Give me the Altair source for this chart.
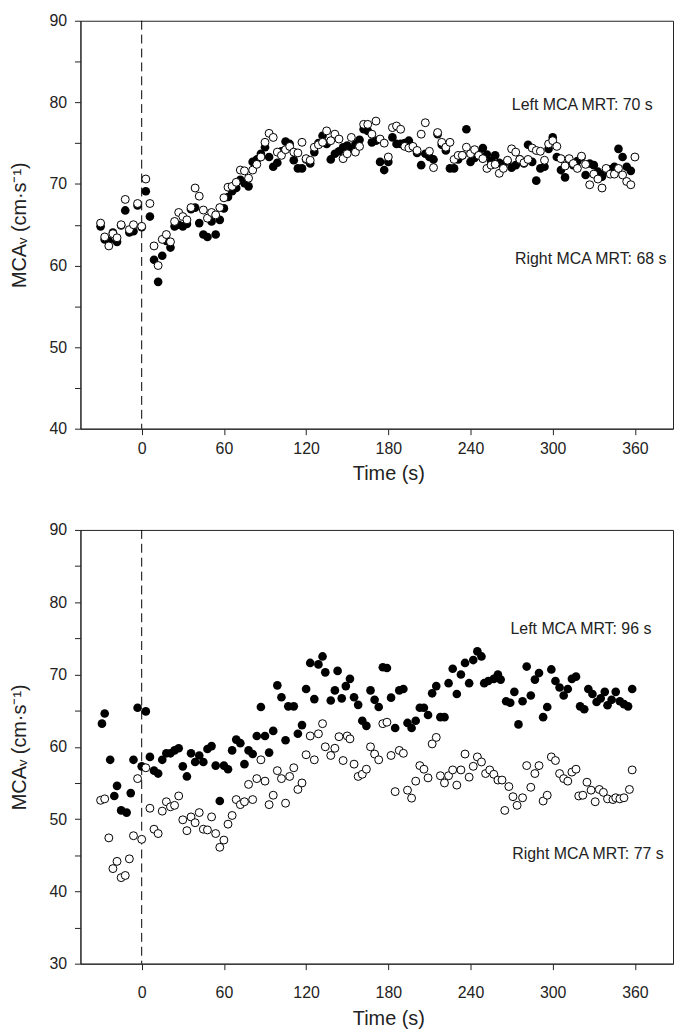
import altair as alt
import pandas as pd

FONT = "Liberation Sans"
INK = "#222222"

# ---------------- data ----------------
# Top panel, filled circles (left MCA)
top_left_t = [-30, -27, -24, -21, -18, -15, -12, -9, -6, -3, 0, 3, 6, 9, 12, 15, 18, 21, 24, 27,
              30, 33, 36, 39, 42, 45, 48, 51, 54, 57, 60, 63, 66, 69, 72, 75, 78, 81, 84, 87,
              90, 93, 96, 99, 102, 105, 108, 111, 114, 117, 120, 123, 126, 129, 132, 135, 138, 141, 144, 147,
              150, 153, 156, 159, 162, 165, 168, 171, 174, 177, 180, 183, 186, 189, 192, 195, 198, 201, 204, 207,
              210, 213, 216, 219, 222, 225, 228, 231, 234, 237, 240, 243, 246, 249, 252, 255, 258, 261, 264, 267,
              270, 273, 276, 279, 282, 285, 288, 291, 294, 297, 300, 303, 306, 309, 312, 315, 318, 321, 324, 327,
              330, 333, 336, 339, 342, 345, 348, 351, 354, 357]
top_left_v = [64.8, 63.2, 63.0, 64.05, 62.9, 64.9, 66.75, 64.05, 64.2, 67.35, 64.7, 69.1, 66.0, 60.7, 58.0, 61.2, 63.0, 62.2, 64.8, 65.0,
              64.8, 65.1, 66.9, 67.1, 65.2, 63.8, 63.5, 65.4, 63.8, 65.6, 67.0, 68.4, 69.1, 69.5, 70.5, 70.1, 69.7, 72.7, 73.0, 73.7,
              74.5, 73.3, 72.1, 72.6, 74.0, 75.2, 74.9, 72.9, 71.9, 71.9, 73.0, 72.5, 73.9, 75.0, 75.9, 74.9, 73.0, 73.7, 74.0, 74.5,
              74.7, 74.3, 74.9, 75.4, 76.7, 76.5, 75.1, 75.3, 72.7, 71.7, 72.7, 75.7, 74.9, 74.9, 75.0, 75.3, 74.5, 73.8, 72.3, 73.7,
              73.3, 73.0, 76.1, 74.8, 74.1, 71.9, 71.9, 73.0, 73.5, 76.7, 72.7, 73.2, 73.7, 74.4, 73.6, 72.8, 73.5, 72.6, 72.4, 72.8,
              72.0, 72.3, 73.0, 72.5, 74.8, 72.7, 70.4, 71.9, 72.1, 74.3, 75.7, 73.3, 71.7, 70.8, 72.6, 72.3, 72.8, 73.3, 71.1, 72.5,
              72.3, 71.5, 70.9, 71.6, 71.8, 72.1, 74.3, 73.3, 72.1, 71.6]

# Top panel, open circles (right MCA)
top_right_t = [-30, -27, -24, -21, -18, -15, -12, -9, -6, -3, 0, 3, 6, 9, 12, 15, 18, 21, 24, 27,
               30, 33, 36, 39, 42, 45, 48, 51, 54, 57, 60, 63, 66, 69, 72, 75, 78, 81, 84, 87,
               90, 93, 96, 99, 102, 105, 108, 111, 114, 117, 120, 123, 126, 129, 132, 135, 138, 141, 144, 147,
               150, 153, 156, 159, 162, 165, 168, 171, 174, 177, 180, 183, 186, 189, 192, 195, 198, 201, 204, 207,
               210, 213, 216, 219, 222, 225, 228, 231, 234, 237, 240, 243, 246, 249, 252, 255, 258, 261, 264, 267,
               270, 273, 276, 279, 282, 285, 288, 291, 294, 297, 300, 303, 306, 309, 312, 315, 318, 321, 324, 327,
               330, 333, 336, 339, 342, 345, 348, 351, 354, 357, 360]
top_right_v = [65.2, 63.5, 62.4, 63.9, 63.4, 65.0, 68.1, 64.4, 65.0, 67.6, 64.8, 70.6, 67.6, 62.4, 60.0, 63.2, 63.8, 62.9, 65.4, 66.5,
               66.0, 65.6, 67.1, 69.5, 68.5, 66.8, 65.8, 66.5, 66.2, 67.1, 68.3, 69.6, 69.7, 70.2, 71.7, 71.6, 70.7, 71.7, 72.4, 73.3,
               75.1, 76.2, 75.7, 73.9, 73.5, 74.2, 74.6, 73.9, 73.8, 75.1, 73.1, 72.9, 74.5, 74.8, 75.1, 76.5, 75.3, 76.1, 75.5, 73.1,
               73.7, 75.7, 73.9, 74.6, 77.3, 77.3, 76.1, 77.7, 75.5, 75.0, 73.3, 76.9, 77.1, 76.7, 74.6, 74.4, 74.6, 74.1, 76.1, 77.5,
               74.0, 72.0, 76.3, 75.1, 74.5, 75.1, 73.0, 73.5, 73.5, 74.5, 73.7, 74.2, 73.5, 73.1, 71.9, 72.3, 72.4, 71.3, 71.9, 72.9,
               74.3, 73.9, 73.0, 72.6, 73.0, 74.4, 74.1, 74.0, 72.9, 74.9, 75.3, 74.6, 73.1, 72.2, 73.1, 72.5, 71.9, 73.4, 72.4, 69.9,
               71.2, 70.6, 69.5, 71.9, 71.2, 71.2, 71.9, 71.1, 70.3, 69.9, 73.3]

# Bottom panel, filled circles (left MCA)
bot_left_t = [-29, -27, -23, -20, -18, -15, -11, -8, -6, -3, 0, 3, 6, 9, 12, 15, 18, 21, 24, 27,
              30, 33, 36, 39, 42, 45, 48, 51, 54, 57, 60, 63, 66, 69, 72, 75, 78, 81, 84, 87,
              90, 93, 96, 99, 102, 105, 107, 111, 114, 117, 120, 123, 126, 129, 132, 134, 138, 141, 143, 146,
              149, 152, 155, 158, 161, 164, 167, 170, 173, 176, 179, 182, 185, 188, 191, 194, 197, 200, 203, 206,
              209, 212, 215, 218, 221, 224, 227, 230, 233, 236, 239, 242, 245, 248, 250, 253, 257, 260, 262, 266,
              269, 272, 275, 278, 281, 284, 287, 290, 293, 296, 299, 302, 305, 308, 311, 314, 317, 320, 323, 326,
              329, 332, 335, 338, 340, 343, 346, 349, 352, 355, 358]
bot_left_v = [63.2, 64.6, 58.2, 53.2, 54.6, 51.2, 50.9, 53.6, 58.2, 65.4, 57.3, 64.9, 58.6, 56.7, 56.3, 58.2, 59.1, 59.1, 59.5, 59.8,
              57.3, 55.9, 59.1, 57.9, 58.8, 57.9, 59.7, 60.1, 57.4, 52.5, 57.4, 56.9, 59.5, 61.0, 60.5, 57.6, 59.5, 59.0, 61.5, 65.5,
              61.5, 59.2, 62.2, 68.5, 66.85, 60.9, 65.6, 65.6, 61.8, 63.0, 68.0, 71.6, 66.6, 71.4, 72.5, 70.3, 66.4, 67.8, 70.5, 66.7,
              68.4, 69.4, 66.85, 65.8, 63.6, 62.9, 67.8, 66.5, 65.5, 71.0, 70.9, 66.8, 62.6, 67.8, 68.0, 63.3, 62.6, 63.6, 65.4, 65.4,
              64.4, 67.4, 68.4, 64.1, 64.1, 68.8, 70.8, 67.3, 70.0, 71.6, 68.8, 72.0, 73.2, 72.5, 68.8, 69.1, 69.4, 70.0, 69.3, 66.3,
              66.1, 67.6, 63.1, 66.3, 71.1, 67.1, 69.3, 70.2, 64.1, 65.5, 70.7, 69.1, 68.2, 67.1, 68.0, 69.4, 69.7, 65.6, 65.2, 68.0,
              67.3, 66.2, 66.7, 67.6, 65.75, 66.5, 67.6, 66.3, 65.9, 65.6, 68.0]

# Bottom panel, open circles (right MCA)
bot_right_t = [-30, -27, -24, -21, -18, -15, -12, -9, -6, -3, 0, 3, 6, 9, 12, 15, 18, 21, 24, 27,
               30, 33, 36, 39, 42, 45, 48, 51, 54, 57, 60, 63, 66, 69, 72, 75, 78, 81, 84, 87,
               90, 93, 96, 99, 102, 105, 108, 111, 114, 117, 120, 123, 126, 129, 132, 134, 138, 141, 144, 147,
               150, 152, 155, 158, 161, 164, 167, 170, 173, 176, 179, 182, 185, 188, 191, 194, 197, 200, 203, 206,
               209, 212, 215, 218, 221, 224, 227, 230, 233, 236, 239, 242, 245, 248, 251, 254, 257, 260, 263, 265,
               268, 271, 274, 278, 281, 284, 287, 290, 293, 296, 299, 302, 305, 308, 311, 314, 317, 319, 322, 325,
               328, 331, 334, 337, 340, 344, 346, 349, 352, 356, 358]
bot_right_v = [52.6, 52.8, 47.4, 43.15, 44.15, 41.9, 42.2, 44.5, 47.7, 55.6, 47.2, 57.1, 51.5, 48.6, 48.0, 51.1, 52.4, 51.7, 51.9, 53.2,
               49.9, 48.4, 50.3, 49.5, 50.9, 48.6, 48.5, 50.3, 48.0, 46.1, 47.1, 49.3, 50.5, 52.7, 52.0, 52.4, 54.8, 52.7, 55.6, 58.2,
               55.25, 52.0, 53.3, 56.7, 55.6, 52.2, 55.9, 57.1, 54.1, 55.0, 58.9, 61.5, 58.2, 61.8, 63.2, 60.0, 58.8, 59.8, 61.4, 58.1,
               61.5, 61.1, 57.6, 55.9, 56.2, 56.9, 60.0, 59.0, 58.2, 63.2, 63.4, 58.8, 53.8, 59.5, 59.1, 54.0, 52.9, 55.25, 57.4, 56.9,
               55.7, 60.4, 61.3, 56.0, 55.0, 56.0, 56.8, 54.7, 56.8, 59.0, 55.8, 57.3, 58.6, 57.9, 56.3, 56.8, 56.2, 55.4, 55.4, 51.2,
               54.5, 53.1, 51.9, 52.95, 57.4, 54.4, 56.3, 57.4, 52.5, 53.3, 58.6, 58.1, 56.3, 55.6, 55.25, 56.5, 56.9, 53.2, 53.3, 55.1,
               54.0, 52.4, 54.1, 53.7, 52.8, 52.7, 52.95, 52.8, 52.95, 54.1, 56.8]

x_ticks = [0, 60, 120, 180, 240, 300, 360]
top_y_ticks = [40, 45, 50, 55, 60, 65, 70, 75, 80, 85, 90]
bot_y_ticks = [30, 35, 40, 45, 50, 55, 60, 65, 70, 75, 80, 85, 90]

top_labels = ["Left MCA MRT: 70 s", "Right MCA MRT: 68 s"]
top_label_t = [373, 383]
top_label_v = [79.7, 60.8]
bot_labels = ["Left MCA MRT: 96 s", "Right MCA MRT: 77 s"]
bot_label_t = [372, 381]
bot_label_v = [76.3, 45.2]

X_DOMAIN = [-44.7, 387.8]
PLOT_W = 597
Y_TITLE = "MCAᵥ (cm·s⁻¹)"
TITLE_X = (180 - X_DOMAIN[0]) / (X_DOMAIN[1] - X_DOMAIN[0]) * PLOT_W


def panel(lt, lv, rt, rv, ymin, yticks, height, lab, lab_t, lab_v, x_label_pad, x_title_pad):
    df_l = pd.DataFrame({"t": lt, "v": lv})
    df_r = pd.DataFrame({"t": rt, "v": rv})
    df_lab = pd.DataFrame({"t": lab_t, "v": lab_v, "label": lab})

    x = alt.X("t:Q",
              scale=alt.Scale(domain=X_DOMAIN, nice=False, zero=False),
              axis=alt.Axis(values=x_ticks, title="Time (s)", labelPadding=x_label_pad,
                            titlePadding=x_title_pad, titleX=TITLE_X))
    y = alt.Y("v:Q",
              scale=alt.Scale(domain=[ymin, 90], nice=False, zero=False),
              axis=alt.Axis(values=yticks, title=Y_TITLE,
                            labelExpr="datum.value % 10 == 0 ? datum.label : ''",
                            labelPadding=8, titlePadding=20))

    zero_line = alt.Chart(pd.DataFrame({"t": [0]})).mark_rule(
        color="black", strokeWidth=1, strokeDash=[9, 5]
    ).encode(x=x)

    filled = alt.Chart(df_l).mark_circle(size=76, color="black", opacity=1).encode(x=x, y=y)
    hollow = alt.Chart(df_r).mark_point(
        shape="circle", size=64, filled=True, fill="white", stroke="black",
        strokeWidth=1, opacity=1, fillOpacity=1, strokeOpacity=1
    ).encode(x=x, y=y)

    notes = alt.Chart(df_lab).mark_text(
        align="right", baseline="middle", font=FONT, fontSize=16, color=INK
    ).encode(x=x, y=y, text="label:N")

    return alt.layer(zero_line, filled, hollow, notes).properties(width=PLOT_W, height=height)


top = panel(top_left_t, top_left_v, top_right_t, top_right_v, 40, top_y_ticks, 411,
            top_labels, top_label_t, top_label_v, 6, 7)
bottom = panel(bot_left_t, bot_left_v, bot_right_t, bot_right_v, 30, bot_y_ticks, 437,
               bot_labels, bot_label_t, bot_label_v, 15, 8)

chart = alt.vconcat(top, bottom, spacing=37).properties(
    padding={"left": 0, "top": 0, "right": 0, "bottom": 0}
).configure_view(
    stroke=INK, strokeWidth=1
).configure_axis(
    grid=False,
    domainColor=INK, domainWidth=1,
    tickColor=INK, tickWidth=1, tickSize=6,
    labelFont=FONT, labelFontSize=16, labelColor=INK,
    titleFont=FONT, titleFontSize=20, titleFontWeight="normal", titleColor=INK,
)

chart.save("out.html", embed_options={"renderer": "svg", "actions": False})
